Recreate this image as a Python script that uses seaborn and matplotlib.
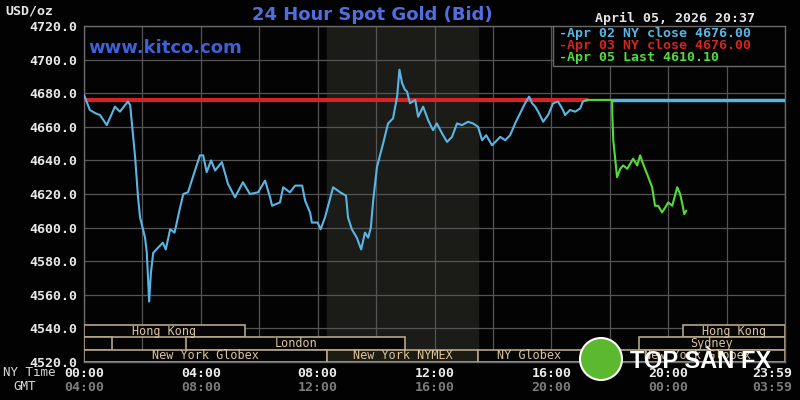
import numpy as np
import pandas as pd
import matplotlib
matplotlib.use("Agg")
import matplotlib.pyplot as plt
from matplotlib.patches import Rectangle, Ellipse
import seaborn as sns

# ---- data (hours since 00:00 NY time, USD/oz) ----
prev_hours = [0.00, 0.20, 0.40, 0.55, 0.78, 1.06, 1.23, 1.50, 1.58, 1.64, 1.75, 1.85, 1.92,
              2.09, 2.15, 2.20, 2.23, 2.29, 2.37, 2.53, 2.70, 2.80, 2.95, 3.10, 3.29, 3.40,
              3.56, 3.80, 3.97, 4.08, 4.20, 4.35, 4.49, 4.72, 4.93, 5.17, 5.44, 5.68, 5.96,
              6.20, 6.37, 6.44, 6.71, 6.82, 7.05, 7.23, 7.47, 7.57, 7.74, 7.80, 8.00, 8.10,
              8.25, 8.53, 8.77, 8.97, 9.04, 9.17, 9.34, 9.49, 9.62, 9.73, 9.82, 9.90, 10.03,
              10.24, 10.41, 10.58, 10.72, 10.80, 10.89, 10.99, 11.06, 11.16, 11.34, 11.44,
              11.61, 11.78, 11.95, 12.08, 12.26, 12.43, 12.60, 12.77, 12.94, 13.15, 13.32,
              13.49, 13.63, 13.77, 13.97, 14.14, 14.25, 14.42, 14.59, 14.76, 14.93, 15.10,
              15.24, 15.34, 15.45, 15.55, 15.72, 15.89, 16.06, 16.23, 16.40, 16.47, 16.64,
              16.82, 16.99, 17.08, 17.22]
prev_price = [4679, 4670, 4668, 4667, 4661, 4672, 4669, 4675, 4673, 4662, 4642, 4618, 4606,
              4594, 4585, 4567, 4556, 4573, 4585, 4588, 4591, 4587, 4599, 4597, 4612, 4620,
              4621, 4634, 4643, 4643, 4633, 4640, 4634, 4639, 4626, 4618, 4627, 4620, 4621,
              4628, 4618, 4613, 4615, 4624, 4621, 4625, 4625, 4616, 4609, 4603, 4603, 4599,
              4606, 4624, 4621, 4619, 4606, 4599, 4594, 4587, 4597, 4594, 4600, 4616, 4636,
              4650, 4662, 4665, 4678, 4694, 4686, 4682, 4681, 4674, 4676, 4666,
              4672, 4664, 4658, 4662, 4656, 4651, 4654, 4662, 4661, 4663, 4662,
              4660, 4652, 4655, 4649, 4652, 4654, 4652, 4655, 4662, 4668, 4674,
              4678, 4674, 4672, 4669, 4663, 4667, 4674, 4675, 4670, 4667, 4670,
              4669, 4671, 4675, 4676]

last_hours = [17.22, 18.08, 18.09, 18.12, 18.18, 18.25, 18.36, 18.46, 18.60, 18.70, 18.80,
              18.94, 19.04, 19.14, 19.32, 19.45, 19.55, 19.66, 19.79, 19.90, 20.00, 20.14,
              20.31, 20.41, 20.51, 20.55, 20.62]
last_price = [4676, 4676, 4666, 4652, 4642, 4630, 4635, 4637, 4635, 4638, 4641,
              4637, 4643, 4638, 4630, 4624, 4613, 4613, 4609, 4612, 4615, 4613,
              4624, 4620, 4612, 4608, 4610.1]

apr02_close = 4676.00
apr03_close = 4676.00
apr05_last = 4610.10

nymex_hours = (8.33, 13.5)

# sessions: (row, start, end, label)  row 0 = bottom
sessions = [
    (2, 0.0, 5.5, "Hong Kong"),
    (2, 20.5, 24.0, "Hong Kong"),
    (1, 0.0, 0.96, ""),
    (1, 3.5, 11.0, "London"),
    (1, 19.0, 24.0, "Sydney"),
    (0, 0.0, 8.33, "New York Globex"),
    (0, 8.33, 13.5, "New York NYMEX"),
    (0, 13.5, 17.0, "NY Globex"),
    (0, 18.0, 24.0, "New York Globex"),
]

ny_labels = ["00:00", "04:00", "08:00", "12:00", "16:00", "20:00", "23:59"]
gmt_labels = ["04:00", "08:00", "12:00", "16:00", "20:00", "00:00", "03:59"]
label_hours = [0, 4, 8, 12, 16, 20, 24]
y_ticks = list(range(4520, 4721, 20))

# ---- style ----
sns.set_theme(style="dark")
plt.rcParams["font.family"] = ["DejaVu Sans Mono", "DejaVu Sans"]
mono = "DejaVu Sans Mono"

cyan = "#58b6e6"
red = "#d42424"
green = "#52dc38"
tan = "#dcc49c"
box_edge = "#b4a688"
grid_c = "#545454"

fig = plt.figure(figsize=(8, 4), dpi=100, facecolor="#020202")
ax = fig.add_axes([84 / 800, 38 / 400, 701 / 800, 336 / 400])
ax.set_facecolor("#030303")
ax.set_xlim(0, 24)
ax.set_ylim(4520, 4720)

ax.axvspan(*nymex_hours, color="#1b1b18", zorder=0)

ax.set_xticks(np.arange(0, 25, 2))
ax.set_xticklabels([])
ax.set_yticks(y_ticks)
ax.set_yticklabels([f"{v:.1f}" for v in y_ticks], family=mono, weight="bold",
                   fontsize=9.5, color="#e8e8e8")
ax.tick_params(length=0, pad=4.5)
ax.grid(True, color=grid_c, lw=0.9)
ax.set_axisbelow(True)
for s in ax.spines.values():
    s.set_color("#6a6a6a")
    s.set_linewidth(1)

# flat close lines
sns.lineplot(x=[0, prev_hours[-1]], y=[apr03_close, apr03_close], ax=ax,
             color=red, lw=3, zorder=3)
sns.lineplot(x=[18.08, 24], y=[apr02_close, apr02_close], ax=ax,
             color=cyan, lw=2.5, zorder=3)

prev_df = pd.DataFrame({"hour": prev_hours, "price": prev_price})
last_df = pd.DataFrame({"hour": last_hours, "price": last_price})
sns.lineplot(data=prev_df, x="hour", y="price", ax=ax, color=cyan, lw=1.5,
             estimator=None, sort=False, zorder=4)
sns.lineplot(data=last_df, x="hour", y="price", ax=ax, color=green, lw=1.5,
             estimator=None, sort=False, zorder=4)
ax.set_xlabel("")
ax.set_ylabel("")

# session boxes
row_h = 7.3
for row, start, end, label in sessions:
    y0 = 4520 + row * row_h
    fc = "#1c1c12" if "NYMEX" in label else "#050505"
    ax.add_patch(Rectangle((start, y0), end - start, row_h, facecolor=fc,
                           edgecolor=box_edge, lw=1.2, zorder=5))
    if label:
        ax.text((start + end) / 2, y0 + row_h / 2, label, ha="center", va="center",
                fontsize=8.5, family=mono, color=tan, zorder=6)

# legend box
ax.add_patch(Rectangle((0.669, 0.881), 0.331, 0.119, transform=ax.transAxes,
                       facecolor="#030303", edgecolor="#6a6a6a", lw=1, zorder=7))
legend_rows = [
    (f"-Apr 02 NY close {apr02_close:.2f}", cyan),
    (f"-Apr 03 NY close {apr03_close:.2f}", red),
    (f"-Apr 05 Last {apr05_last:.2f}", green),
]
for i, (txt, col) in enumerate(legend_rows):
    ax.text(0.677, 0.979 - i * 0.036, txt, transform=ax.transAxes, ha="left",
            va="center", family=mono, weight="bold", fontsize=9.5, color=col, zorder=8)

# time axis labels
xt = ax.get_xaxis_transform()
for h, ny, gmt in zip(label_hours, ny_labels, gmt_labels):
    ha = "right" if h == 24 else "center"
    xpos = 24.25 if h == 24 else h
    ax.text(xpos, -0.033, ny, transform=xt, ha=ha, va="center", family=mono,
            weight="bold", fontsize=9.5, color="#ececec", clip_on=False)
    ax.text(xpos, -0.075, gmt, transform=xt, ha=ha, va="center", family=mono,
            weight="bold", fontsize=9.5, color="#7c7c7c", clip_on=False)
fig.text(3 / 800, 1 - 373 / 400, "NY Time", ha="left", va="center", family=mono,
         fontsize=9, color="#d8d8d8")
fig.text(13 / 800, 1 - 387 / 400, "GMT", ha="left", va="center", family=mono,
         fontsize=9, color="#d8d8d8")

# titles / annotations
fig.text(372 / 800, 1 - 15 / 400, "24 Hour Spot Gold (Bid)", ha="center", va="center",
         family="DejaVu Sans", weight="bold", fontsize=13, color="#4f6fe0")
fig.text(5 / 800, 1 - 11 / 400, "USD/oz", ha="left", va="center", family=mono,
         weight="bold", fontsize=9.5, color="#e6e6e6")
fig.text(595 / 800, 1 - 18 / 400, "April 05, 2026 20:37", ha="left", va="center",
         family=mono, weight="bold", fontsize=9.5, color="#e6e6e6")
ax.text(0.006, 0.935, "www.kitco.com", transform=ax.transAxes, ha="left", va="center",
        family="DejaVu Sans", weight="bold", fontsize=13, color="#3e60d8", zorder=6)

# watermark
fig.patches.append(Ellipse((601 / 800, 1 - 359 / 400), 42 / 800, 42 / 400,
                           transform=fig.transFigure, facecolor="#5cb82e",
                           edgecolor="white", lw=1.5, zorder=20))
fig.text(630 / 800, 1 - 362 / 400, "TOP SÀN FX", ha="left", va="center",
         family="Liberation Sans", weight="bold", fontsize=17, color="white", zorder=21)

fig.savefig("out.png", dpi=100, facecolor=fig.get_facecolor())
